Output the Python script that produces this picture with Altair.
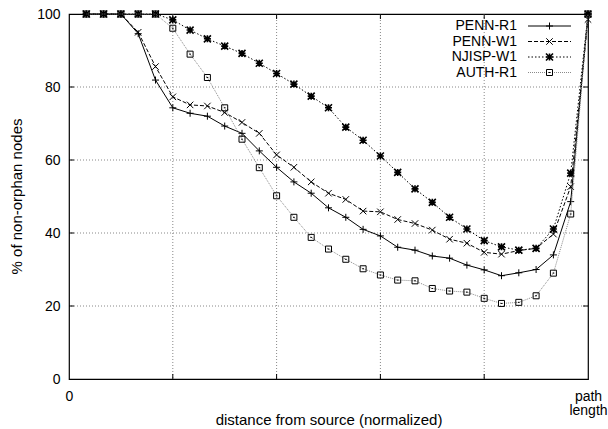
import altair as alt
import pandas as pd

# ---- data ----
steps = list(range(1, 31))
penn_r1 = [100, 100, 100, 94.6, 81.9, 74.3, 72.8, 72.0, 69.3, 67.3, 62.5, 58.0, 54.0, 50.9, 46.9,
           44.3, 41.0, 39.2, 36.1, 35.3, 33.7, 33.1, 31.2, 29.9, 28.3, 29.1, 30.0, 34.0, 48.6, 100]
penn_w1 = [100, 100, 100, 95.0, 85.6, 77.3, 75.1, 74.8, 73.0, 70.3, 67.3, 61.4, 58.0, 54.0, 50.9,
           49.2, 46.0, 45.8, 43.7, 42.6, 40.8, 38.3, 37.2, 34.7, 34.2, 35.2, 35.8, 39.7, 52.7, 98.5]
njisp_w1 = [100, 100, 100, 100, 100, 98.4, 95.6, 93.2, 91.2, 89.2, 86.5, 83.7, 80.8, 77.5, 74.3,
            69.0, 65.4, 61.1, 56.6, 52.1, 48.4, 44.3, 41.1, 37.9, 36.2, 35.3, 35.8, 41.1, 56.4, 100]
auth_r1 = [100, 100, 100, 100, 100, 96.1, 89.0, 82.6, 74.3, 65.7, 57.9, 50.2, 44.3, 38.8, 35.6,
           32.8, 30.2, 28.5, 27.1, 26.9, 24.8, 24.1, 23.8, 22.1, 20.7, 21.0, 22.8, 29.0, 45.2, 100]
series_names = ["PENN-R1", "PENN-W1", "NJISP-W1", "AUTH-R1"]
series_values = [penn_r1, penn_w1, njisp_w1, auth_r1]

x_label_values = [0, 30]
y_label_values = [0, 20, 40, 60, 80, 100]
grid_x = [6, 12, 18, 24]
grid_y = [20, 40, 60, 80]

# ---- styles ----
FONT = "Liberation Sans"
W, H = 519, 365
PLUS = "M-1,0L1,0M0,-1L0,1"
CROSS = "M-1,-1L1,1M-1,1L1,-1"
STAR = "M-1,0L1,0M0,-1L0,1M-1,-1L1,1M-1,1L1,-1"
BOX = "M-1,-1L1,-1L1,1L-1,1Z M-0.3,0L0.3,0"
styles = {
    "PENN-R1": dict(color="black", dash=None, shape=PLUS, size=49, sw=1.0, msw=1.0),
    "PENN-W1": dict(color="black", dash=[4, 2], shape=CROSS, size=42, sw=1.0, msw=1.0),
    "NJISP-W1": dict(color="black", dash=[1.5, 2], shape=STAR, size=49, sw=1.0, msw=1.6),
    "AUTH-R1": dict(color="#8a8a8a", dash=[1, 1], shape=BOX, size=36, sw=1.0, msw=1.0),
}

x_scale = alt.Scale(domain=[0, 30], nice=False, zero=False)
y_scale = alt.Scale(domain=[0, 100], nice=False)

x_axis = alt.Axis(values=x_label_values,
                  labelExpr="datum.value == 0 ? '0' : ['path', 'length']",
                  ticks=False, tickSize=0, grid=False, domain=False,
                  labelFontSize=14, labelPadding=10, labelFlush=False, labelOverlap=False,
                  labelBaseline="top", labelLineHeight=14, labelColor="black",
                  title="distance from source (normalized)", titleFontSize=15,
                  titleFontWeight="normal", titleY=33, titleBaseline="top", titleColor="black")
y_axis = alt.Axis(values=y_label_values, ticks=False, tickSize=0, grid=False, domain=False,
                  labelFontSize=14, labelPadding=9, labelColor="black",
                  title="% of non-orphan nodes", titleFontSize=15, titleFontWeight="normal",
                  titleX=-53, titleY=182, titleBaseline="middle", titleColor="black")

layers = []

# grid
gx = pd.DataFrame({"v": grid_x})
gy = pd.DataFrame({"v": grid_y})
layers.append(alt.Chart(gx).mark_rule(color="#888888", strokeDash=[1, 2], strokeWidth=1).encode(
    x=alt.X("v:Q", scale=x_scale, axis=x_axis)))
layers.append(alt.Chart(gy).mark_rule(color="#888888", strokeDash=[1, 2], strokeWidth=1).encode(
    y=alt.Y("v:Q", scale=y_scale, axis=y_axis)))

# inward ticks (bottom/top/left/right)
TL = 5
layers.append(alt.Chart(gx).mark_rule(color="black").encode(
    x=alt.X("v:Q", scale=x_scale), y=alt.value(H), y2=alt.value(H - TL)))
layers.append(alt.Chart(gx).mark_rule(color="black").encode(
    x=alt.X("v:Q", scale=x_scale), y=alt.value(0), y2=alt.value(TL)))
layers.append(alt.Chart(gy).mark_rule(color="black").encode(
    y=alt.Y("v:Q", scale=y_scale), x=alt.value(0), x2=alt.value(TL)))
layers.append(alt.Chart(gy).mark_rule(color="black").encode(
    y=alt.Y("v:Q", scale=y_scale), x=alt.value(W), x2=alt.value(W - TL)))

# series
for name, vals in zip(series_names, series_values):
    st = styles[name]
    df = pd.DataFrame({"step": steps, "pct": vals})
    line_kw = dict(color=st["color"], strokeWidth=st["sw"])
    if st["dash"]:
        line_kw["strokeDash"] = st["dash"]
    layers.append(alt.Chart(df).mark_line(**line_kw).encode(
        x=alt.X("step:Q", scale=x_scale), y=alt.Y("pct:Q", scale=y_scale)))
    layers.append(alt.Chart(df).mark_point(shape=st["shape"], filled=False, color="black",
                                           strokeWidth=st["msw"], size=st["size"], opacity=1).encode(
        x=alt.X("step:Q", scale=x_scale), y=alt.Y("pct:Q", scale=y_scale)))

# legend (top-right, inside the plot)
for i, name in enumerate(series_names):
    st = styles[name]
    yc = 12 + 15.5 * i
    ld = pd.DataFrame({"name": [name]})
    layers.append(alt.Chart(ld).mark_text(align="right", baseline="middle", fontSize=14,
                                          color="black").encode(
        x=alt.value(448), y=alt.value(yc), text="name:N"))
    rule_kw = dict(color=st["color"], strokeWidth=st["sw"])
    if st["dash"]:
        rule_kw["strokeDash"] = st["dash"]
    layers.append(alt.Chart(ld).mark_rule(**rule_kw).encode(
        x=alt.value(459), x2=alt.value(502), y=alt.value(yc)))
    layers.append(alt.Chart(ld).mark_point(shape=st["shape"], filled=False, color="black",
                                           strokeWidth=st["msw"], size=st["size"], opacity=1).encode(
        x=alt.value(480.5), y=alt.value(yc)))

chart = alt.layer(*layers).properties(
    width=W, height=H,
    padding={"left": 69, "top": 14, "right": 20, "bottom": 50},
    autosize=alt.AutoSizeParams(type="none"),
    background="white",
).configure(font=FONT).configure_view(stroke="black", strokeWidth=1.2)

chart.save("out.html", embed_options={"renderer": "svg", "actions": False})
